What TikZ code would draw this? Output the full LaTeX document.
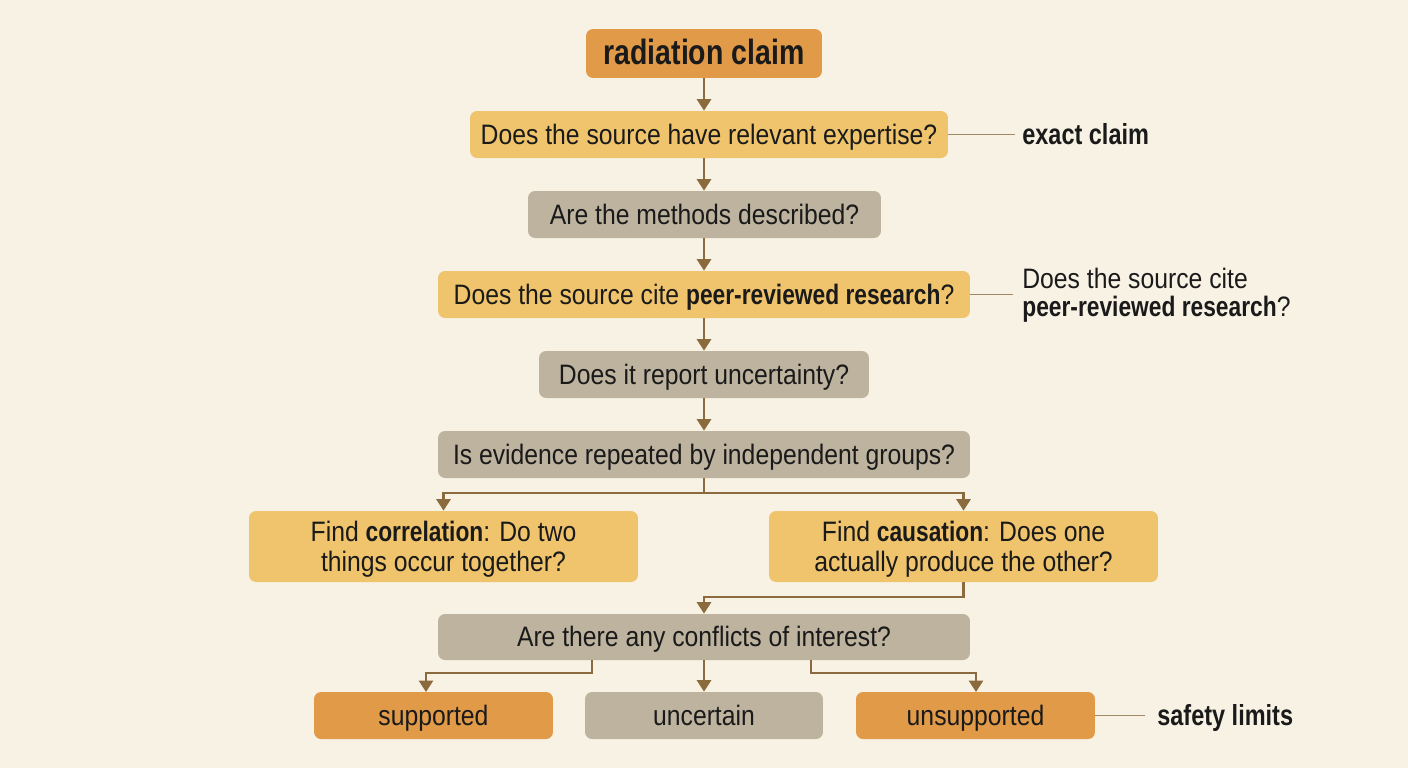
\documentclass[tikz,border=0pt]{standalone}
\usepackage{fontspec}
\setmainfont{Liberation Sans}[FakeStretch=0.88, BoldFeatures={FakeStretch=0.81}]
\usetikzlibrary{arrows.meta}
\definecolor{bg}{HTML}{F8F2E4}
\definecolor{lor}{HTML}{F0C46C}
\definecolor{dor}{HTML}{E09A48}
\definecolor{gry}{HTML}{BDB39F}
\definecolor{arr}{HTML}{8B6B3E}
\definecolor{txt}{HTML}{1A1A1A}
\begin{document}
\begin{tikzpicture}[x=0.02cm,y=-0.02cm,
  box/.style={rounded corners=0.14cm, inner sep=0pt, text=txt, font=\fontsize{16pt}{17pt}\selectfont, align=center, minimum height=0.94cm},
  one/.style={text height=14pt, text depth=2.8pt},
  lbox/.style={box, fill=lor},
  dbox/.style={box, fill=dor},
  gbox/.style={box, fill=gry},
  flow/.style={draw=arr, line width=1.4pt, -{Triangle[width=8pt,length=6.5pt]}},
  side/.style={draw=arr!80, line width=0.6pt},
  slabel/.style={anchor=west, inner sep=0pt, text=txt, font=\fontsize{16pt}{16pt}\selectfont, align=left},
  bl/.style={slabel, font=\bfseries\fontsize{16.5pt}{17pt}\selectfont, text height=13.5pt, text depth=2.5pt}
]
\fill[bg] (0,0) rectangle (1408,768);
\useasboundingbox (0,0) rectangle (1408,768);

\node[dbox, text height=16pt, text depth=3pt, minimum width=4.72cm, minimum height=0.98cm, font=\bfseries\fontsize{20pt}{21pt}\selectfont] (rc) at (704,53.5) {radiation claim};
\node[lbox, one, minimum width=9.56cm] (q1) at (709,134.5) {Does the source have relevant expertise?};
\node[gbox, one, minimum width=7.06cm] (q2) at (704.5,214.5) {Are the methods described?};
\node[lbox, one, minimum width=10.64cm] (q3) at (704,294.5) {Does the source cite \textbf{peer-reviewed research}?};
\node[gbox, one, minimum width=6.6cm] (q4) at (704,374.5) {Does it report uncertainty?};
\node[gbox, one, minimum width=10.64cm] (q5) at (704,454.5) {Is evidence repeated by independent groups?};
\node[lbox, minimum width=7.78cm, minimum height=1.42cm, font=\fontsize{16pt}{17pt}\selectfont, text depth=0pt] (corr) at (443.5,546.5) {Find \textbf{correlation}: Do two\\ things occur together?};
\node[lbox, minimum width=7.78cm, minimum height=1.42cm, font=\fontsize{16pt}{17pt}\selectfont, text depth=0pt] (caus) at (963.5,546.5) {Find \textbf{causation}: Does one\\ actually produce the other?};
\node[gbox, one, minimum width=10.64cm, minimum height=0.92cm] (conf) at (704,637) {Are there any conflicts of interest?};
\node[dbox, one, minimum width=4.78cm] (sup) at (433.5,715.5) {supported};
\node[gbox, one, minimum width=4.76cm] (unc) at (704,715.5) {uncertain};
\node[dbox, one, minimum width=4.78cm] (uns) at (975.5,715.5) {unsupported};

% flow arrows
\draw[flow] (rc.south) -- (rc.south |- q1.north);
\draw[flow] (q1.south -| rc.south) -- (q2.north -| rc.south);
\draw[flow] (q2.south -| rc.south) -- (q3.north -| rc.south);
\draw[flow] (q3.south) -- (q4.north);
\draw[flow] (q4.south) -- (q5.north);
\coordinate (b1) at (704,493);
\draw[flow] (q5.south) -- (b1) -| (corr.north);
\draw[flow] (b1) -| (caus.north);
\coordinate (b2) at (704,597);
\draw[flow] (caus.south) |- (b2) -- (conf.north);
\coordinate (c1) at (592,660);
\coordinate (c2) at (592,673);
\coordinate (c3) at (426,673);
\coordinate (c4) at (426,692);
\draw[flow] (c1) -- (c2) -- (c3) -- (c4);
\draw[flow] (conf.south) -- (unc.north);
\coordinate (d1) at (811,660);
\coordinate (d2) at (811,673);
\coordinate (d3) at (976,673);
\coordinate (d4) at (976,692);
\draw[flow] (d1) -- (d2) -- (d3) -- (d4);

% side labels
\node[bl] (l1) at (1022,134.5) {exact claim};
\draw[side] (q1.east) -- (1015,134.5);
\node[slabel] (l2) at (1022,295.5) {Does the source cite\\ \textbf{peer-reviewed research}?};
\draw[side] (q3.east) -- (1013,294.5);
\node[bl] (l3) at (1157,715.5) {safety limits};
\draw[side] (uns.east) -- (1145,715.5);
\end{tikzpicture}
\end{document}
